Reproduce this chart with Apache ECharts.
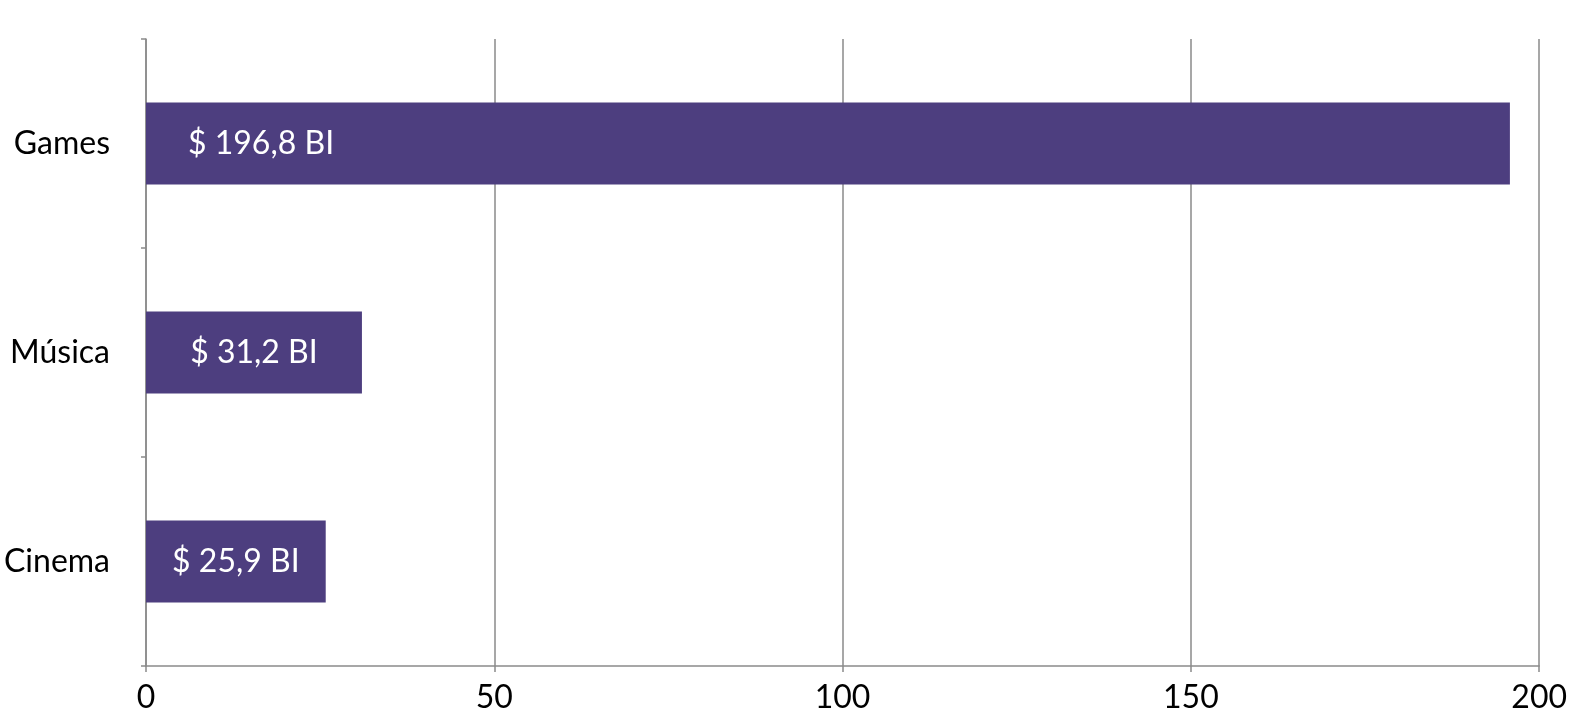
<!DOCTYPE html>
<html><head><meta charset="utf-8">
<script src="https://cdn.jsdelivr.net/npm/echarts@6/dist/echarts.min.js"></script>
<style>html,body{margin:0;padding:0;background:#fff}#c{width:1570px;height:724px}</style>
</head><body><div id="c"></div>
<script>
const categories = ['Cinema', 'Música', 'Games'];
const values = [25.8, 31.0, 195.8];
const labelTexts = ['$ 25,9 BI', '$ 31,2 BI', '$ 196,8 BI'];
const xTicks = [0, 50, 100, 150, 200];

const FONT = 'Lato, "Open Sans", sans-serif';
const chart = echarts.init(document.getElementById('c'), null, {renderer: 'canvas'});
const data = values.map((v, i) => {
  const d = {value: v};
  if (i === 2) {
    d.label = {position: 'insideLeft', distance: 42};
  }
  return d;
});
chart.setOption({
  animation: false,
  grid: {left: 146, right: 29, top: 39, bottom: 58, containLabel: false},
  xAxis: {
    type: 'value', min: xTicks[0], max: xTicks[xTicks.length - 1], interval: 50,
    axisLine: {show: true, lineStyle: {color: '#8a8a8a', width: 1.5}},
    axisTick: {show: true, length: 6, lineStyle: {color: '#8a8a8a', width: 1.5}},
    splitLine: {show: true, lineStyle: {color: '#8a8a8a', width: 1.5}},
    axisLabel: {color: '#000', fontSize: 32, fontFamily: FONT, margin: 16}
  },
  yAxis: {
    type: 'category', data: categories,
    axisLine: {show: true, lineStyle: {color: '#8a8a8a', width: 1.5}},
    axisTick: {show: true, length: 5, lineStyle: {color: '#8a8a8a', width: 1.5}},
    axisLabel: {color: '#000', fontSize: 32, fontFamily: FONT, margin: 36}
  },
  series: [{
    type: 'bar', data: data, barWidth: 82, barGap: 0,
    itemStyle: {color: '#4d3e7f'},
    label: {
      show: true, position: 'inside', color: '#fff', fontSize: 32, fontFamily: FONT,
      formatter: p => labelTexts[p.dataIndex]
    }
  }]
});
</script></body></html>
